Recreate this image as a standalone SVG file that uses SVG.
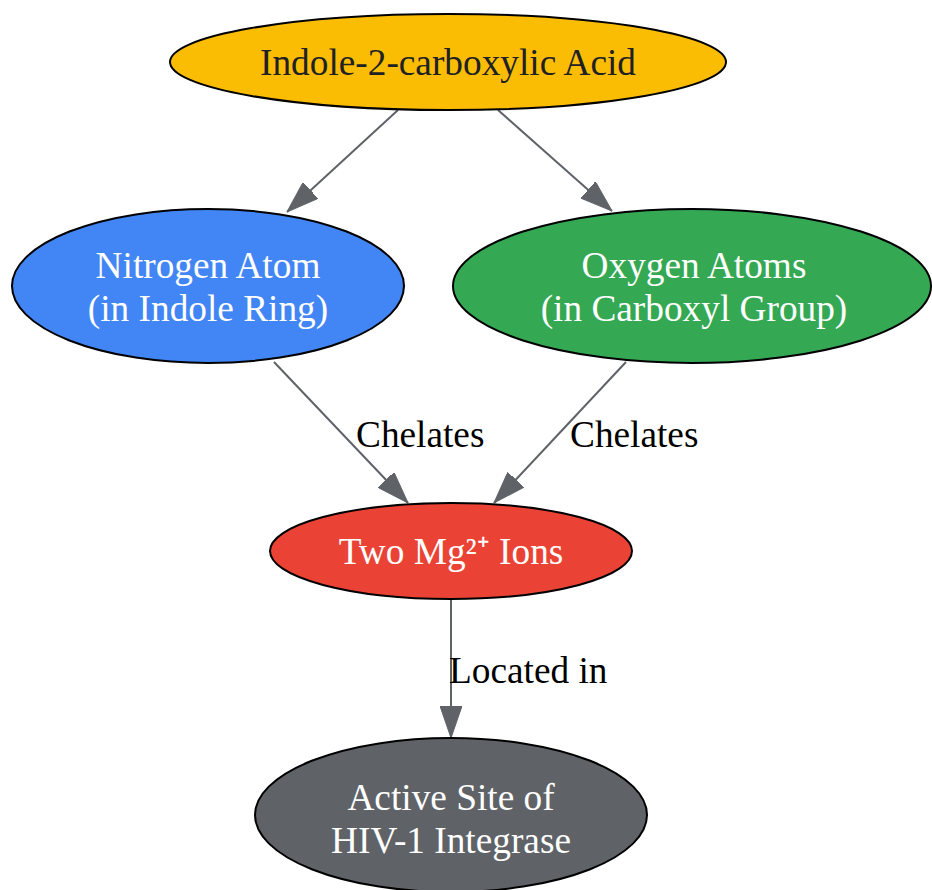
<svg xmlns="http://www.w3.org/2000/svg" width="932" height="890" viewBox="0 0 932 890">
<style>
.node ellipse{stroke:#000;stroke-width:2}
.t{font-family:"Liberation Serif","Times New Roman",serif;font-size:37.3px;text-anchor:middle}
.w{fill:#fff}
.d{fill:#202124}
.lbl{font-family:"Liberation Serif","Times New Roman",serif;font-size:37.3px;fill:#000}
.e{stroke:#5f6368;stroke-width:2;fill:none;marker-end:url(#ah)}
</style>
<defs>
<marker id="ah" markerUnits="userSpaceOnUse" markerWidth="32" markerHeight="22" refX="32" refY="11" orient="auto" viewBox="0 0 32 22">
<path d="M0,0 L32,11 L0,22 z" fill="#5f6368" stroke="#5f6368" stroke-width="1"/>
</marker>
</defs>
<rect width="932" height="890" fill="#fff"/>
<g id="edges">
<line class="e" x1="398" y1="110" x2="287" y2="212"/>
<line class="e" x1="498" y1="110" x2="612" y2="211"/>
<line class="e" x1="274" y1="362" x2="408" y2="503"/>
<line class="e" x1="626" y1="362" x2="494" y2="503"/>
<line class="e" x1="451" y1="599" x2="451" y2="738"/>
<text class="lbl" x="356" y="447">Chelates</text>
<text class="lbl" x="570" y="447">Chelates</text>
<text class="lbl" x="449" y="683">Located in</text>
</g>
<g id="indole" class="node">
<ellipse cx="448" cy="62" rx="278" ry="48" fill="#fbbc04"/>
<text class="t d" x="448" y="75">Indole-2-carboxylic Acid</text>
</g>
<g id="nitrogen" class="node">
<ellipse cx="208" cy="286" rx="196" ry="77" fill="#4285f4"/>
<text class="t w" x="208" y="278">Nitrogen Atom</text>
<text class="t w" x="208" y="321">(in Indole Ring)</text>
</g>
<g id="oxygen" class="node">
<ellipse cx="692" cy="286" rx="239" ry="77" fill="#34a853"/>
<text class="t w" x="694" y="278">Oxygen Atoms</text>
<text class="t w" x="694" y="321">(in Carboxyl Group)</text>
</g>
<g id="mg" class="node">
<ellipse cx="451" cy="551" rx="181" ry="48" fill="#ea4335"/>
<text class="t w" x="451" y="564">Two Mg²⁺ Ions</text>
</g>
<g id="active" class="node">
<ellipse cx="451" cy="815" rx="196" ry="77" fill="#5f6368"/>
<text class="t w" x="451" y="810">Active Site of</text>
<text class="t w" x="451" y="853">HIV-1 Integrase</text>
</g>
</svg>
